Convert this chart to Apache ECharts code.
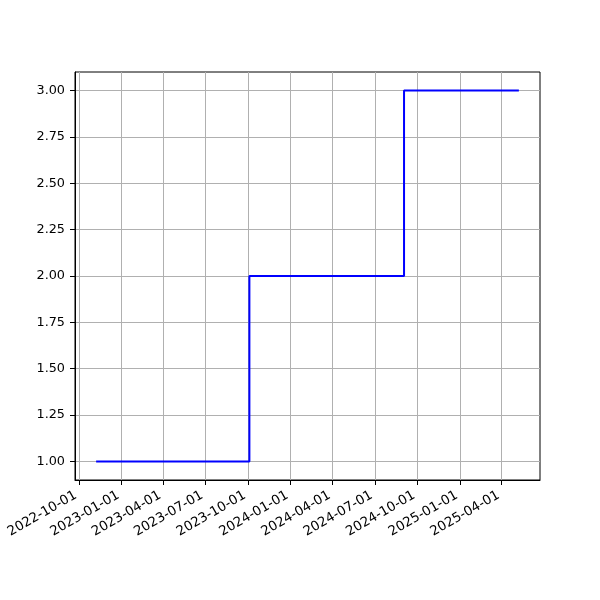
<!DOCTYPE html>
<html>
<head>
<meta charset="utf-8">
<script src="https://cdn.jsdelivr.net/npm/echarts@6/dist/echarts.min.js"></script>
<style>html,body{margin:0;padding:0;background:#fff}#c{width:600px;height:600px}</style>
</head>
<body>
<div id="c"></div>
<script>
// Data
const dates = ['2022-11-07', '2023-10-04', '2024-09-02', '2025-05-08'];
const values = [1, 2, 3, 3];
const xTickLabels = ['2022-10-01','2023-01-01','2023-04-01','2023-07-01','2023-10-01','2024-01-01','2024-04-01','2024-07-01','2024-10-01','2025-01-01','2025-04-01'];
const yTickValues = [1.00, 1.25, 1.50, 1.75, 2.00, 2.25, 2.50, 2.75, 3.00];

function ts(s){ const p = s.split('-').map(Number); return Date.UTC(p[0], p[1]-1, p[2]); }
function pad(n){ return (n<10?'0':'')+n; }
function fmt(t){ const d = new Date(t); return d.getUTCFullYear()+'-'+pad(d.getUTCMonth()+1)+'-'+pad(d.getUTCDate()); }

const xs = dates.map(ts);
const x0 = Math.min(...xs), x1 = Math.max(...xs);
const xSpan = x1 - x0;
const yMinD = Math.min(...values), yMaxD = Math.max(...values);
const ySpan = yMaxD - yMinD;
const xTickVals = xTickLabels.map(ts);

const font = 'DejaVu Sans';
const chart = echarts.init(document.getElementById('c'), null, {renderer:'canvas'});
chart.setOption({
  animation: false,
  grid: {left: 75, right: 60, top: 72, bottom: 120, show: true, borderColor: '#000', borderWidth: 1, backgroundColor: 'transparent'},
  xAxis: {
    type: 'value',
    scale: true,
    min: x0 - 0.05 * xSpan,
    max: x1 + 0.05 * xSpan,
    axisLine: {show: true, onZero: false, lineStyle: {color: '#000', width: 1}},
    axisTick: {show: true, length: 5, lineStyle: {color: '#000', width: 1}, customValues: xTickVals},
    axisLabel: {show: true, rotate: 30, margin: 20, verticalAlign: 'bottom', align: 'right', color: '#000', fontFamily: font, fontSize: 13.3,
      customValues: xTickVals, formatter: v => fmt(v), hideOverlap: false},
    splitLine: {show: true, lineStyle: {color: '#b0b0b0', width: 1}}
  },
  yAxis: {
    type: 'value',
    min: yMinD - 0.05 * ySpan,
    max: yMaxD + 0.05 * ySpan,
    axisLine: {show: true, lineStyle: {color: '#000', width: 1}},
    axisTick: {show: true, length: 5, lineStyle: {color: '#000', width: 1}, customValues: yTickValues},
    axisLabel: {show: true, margin: 10, color: '#000', fontFamily: font, fontSize: 12.8,
      customValues: yTickValues, formatter: v => v.toFixed(2)},
    splitLine: {show: true, lineStyle: {color: '#b0b0b0', width: 1}}
  },
  series: [{
    type: 'line',
    step: 'end',
    data: xs.map((t, i) => [t, values[i]]),
    showSymbol: false,
    symbol: 'none',
    lineStyle: {color: '#0000ff', width: 2},
    z: 5
  }]
});
</script>
</body>
</html>
